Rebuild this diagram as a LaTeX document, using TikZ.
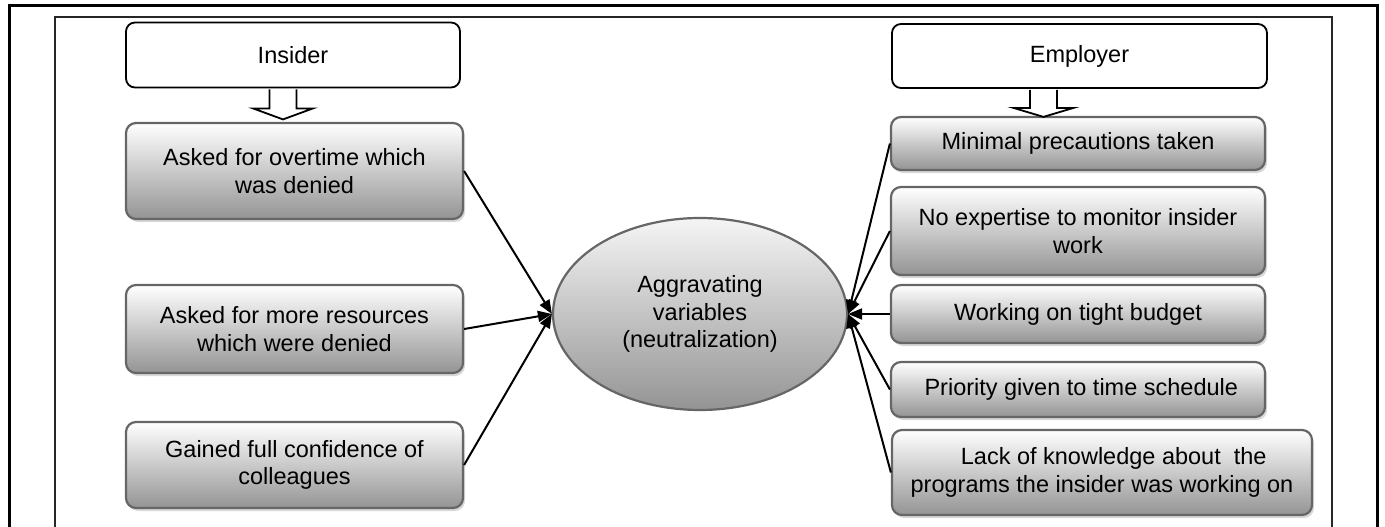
\documentclass[tikz,border=0pt]{standalone}
\usepackage{fontspec}
\setmainfont{Liberation Sans}
\usetikzlibrary{arrows.meta, positioning, calc, shapes.geometric, shadows}

\begin{document}
\begin{tikzpicture}[x=1pt, y=-1pt,
    hdr/.style={draw, line width=1.8pt, rounded corners=9pt, fill=white, font=\fontsize{23.5}{27.6}\selectfont, inner sep=0pt},
    fac/.style={draw=black!60, line width=2.2pt, rounded corners=10pt, top color=white, bottom color=black!42,
                font=\fontsize{23.5}{27.6}\selectfont, align=center, inner sep=0pt,
                drop shadow={shadow xshift=2pt, shadow yshift=-3pt, fill=black!30}},
    hollow/.style={draw, line width=1.8pt, fill=white, line join=miter},
    arr/.style={-{Triangle[length=14pt, width=11pt]}, line width=2pt}]
  \useasboundingbox (0,0) rectangle (1385,527);
  % frame
  \draw[line width=3pt] (9,527) -- (9,6) -- (1377,6) -- (1377,527);
  \draw[line width=2.2pt, black!85] (55,527) -- (55,17) -- (1332,17) -- (1332,527);

  % insider side
  \node[hdr, minimum width=334, minimum height=65] (ins) at (293,55) {Insider};
  \node[fac, minimum width=337, minimum height=96] (over) at (294.5,171) {Asked for overtime which\\was denied};
  \node[fac, minimum width=337, minimum height=88] (res)  at (294.5,329) {Asked for more resources\\which were denied};
  \node[fac, minimum width=337, minimum height=86] (conf) at (294.5,465) {Gained full confidence of\\colleagues};

  % employer side
  \node[hdr, minimum width=375, minimum height=64] (emp) at (1079.5,56) {Employer};
  \node[fac, minimum width=374, minimum height=53] (prec) at (1078,143.5) {Minimal precautions taken};
  \node[fac, minimum width=374, minimum height=88] (expt) at (1078,231) {No expertise to monitor insider\\work};
  \node[fac, minimum width=374, minimum height=58] (budg) at (1078,314) {Working on tight budget};
  \node[fac, minimum width=374, minimum height=55] (prio) at (1078,389.5) {\ Priority given to time schedule};
  \node[fac, minimum width=420, minimum height=85] (know) at (1102,472.5) {\quad Lack of knowledge about \ the\\programs the insider was working on};

  % centre
  \node[ellipse, draw=black!60, line width=2.2pt, top color=black!4, bottom color=black!42,
        minimum width=294, minimum height=192, align=center, inner sep=0pt,
        font=\fontsize{23.5}{27.6}\selectfont] (agg) at (700,314) {Aggravating\\variables\\(neutralization)};

  % block arrows under the headers
  \draw[hollow] ($(ins.south)+(-23.5,1)$) -- ++(0,19) -- ++(-16.5,0) -- ++(30,11) -- ++(30,-11) -- ++(-16.5,0) -- ++(0,-19);
  \draw[hollow] ($(emp.south)+(-49.5,1)$) -- ++(0,18) -- ++(-16.5,0) -- ++(30,9) -- ++(30,-9) -- ++(-16.5,0) -- ++(0,-18);

  % links
  \draw[arr] (over.east) -- (agg.west);
  \draw[arr] (res.east)  -- (agg.west);
  \draw[arr] (conf.east) -- (agg.west);
  \draw[arr] (prec.west) -- (agg.east);
  \draw[arr] (expt.west) -- (agg.east);
  \draw[arr] (budg.west) -- (agg.east);
  \draw[arr] (prio.west) -- (agg.east);
  \draw[arr] (know.west) -- (agg.east);
\end{tikzpicture}
\end{document}
